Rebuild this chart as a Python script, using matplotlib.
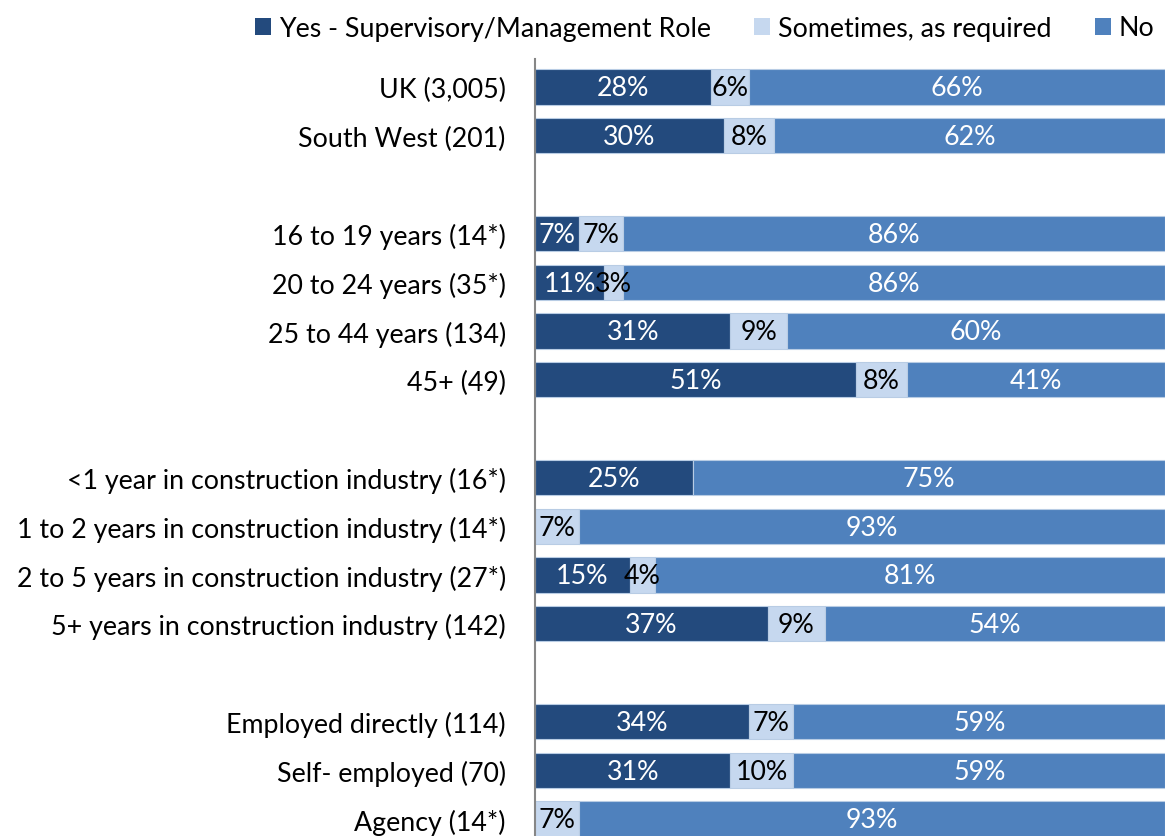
import matplotlib
matplotlib.use("Agg")
import matplotlib.pyplot as plt
from matplotlib.patches import Patch

plt.rcParams['font.family'] = ['Lato', 'DejaVu Sans']

# ---- data ----
categories = [
    "UK (3,005)", "South West (201)",
    "16 to 19 years (14*)", "20 to 24 years (35*)", "25 to 44 years (134)", "45+ (49)",
    "<1 year in construction industry (16*)", "1 to 2 years in construction industry (14*)",
    "2 to 5 years in construction industry (27*)", "5+ years in construction industry (142)",
    "Employed directly (114)", "Self- employed (70)", "Agency (14*)",
]
group_sizes = [2, 4, 4, 3]
series_names = ["Yes - Supervisory/Management Role", "Sometimes, as required", "No"]
yes_vals = [28, 30, 7, 11, 31, 51, 25, 0, 15, 37, 34, 31, 0]
sometimes_vals = [6, 8, 7, 3, 9, 8, 0, 7, 4, 9, 7, 10, 7]
no_vals = [66, 62, 86, 86, 60, 41, 75, 93, 81, 54, 59, 59, 93]

colors = ["#234A7D", "#C6D8EF", "#4F81BD"]
text_colors = ["white", "black", "white"]

# positions with a blank slot between groups
positions = []
pos = 0
for g in group_sizes:
    for _ in range(g):
        positions.append(pos)
        pos += 1
    pos += 1

W, H = 1167, 837
fig = plt.figure(figsize=(W / 100, H / 100), dpi=100)
ax = fig.add_axes([535 / W, 0, 630 / W, (H - 60) / H])

FS = 19.3
series = [yes_vals, sometimes_vals, no_vals]
left = [0] * len(categories)
for vals, col, tcol in zip(series, colors, text_colors):
    ax.barh(positions, vals, left=left, height=0.72, color=col,
            edgecolor="#B8CCE4", linewidth=0.8)
    for y, l, v in zip(positions, left, vals):
        if v > 0:
            ax.text(l + v / 2, y + 0.02, f"{v}%", ha="center", va="center",
                    color=tcol, fontsize=FS)
    left = [a + b for a, b in zip(left, vals)]

ax.set_xlim(0, 100)
ax.set_ylim((837 - 88) / 48.8, -(88 - 60) / 48.8)
ax.set_yticks(positions)
ax.set_yticklabels(categories, fontsize=FS)
ax.tick_params(axis="y", length=0, pad=21)
ax.set_xticks([])
for s in ["top", "right", "bottom"]:
    ax.spines[s].set_visible(False)
ax.spines["left"].set_color("#868686")
ax.spines["left"].set_linewidth(1.5)

handles = [Patch(facecolor=c, edgecolor="none") for c in colors]
fig.legend(handles, series_names, loc="center left",
           bbox_to_anchor=(255 / W, 1 - 29 / H), ncol=3, frameon=False,
           fontsize=FS, handlelength=0.6, handleheight=0.6,
           handletextpad=0.3, columnspacing=1.6, borderpad=0, borderaxespad=0)

fig.savefig("out.png", dpi=100)
